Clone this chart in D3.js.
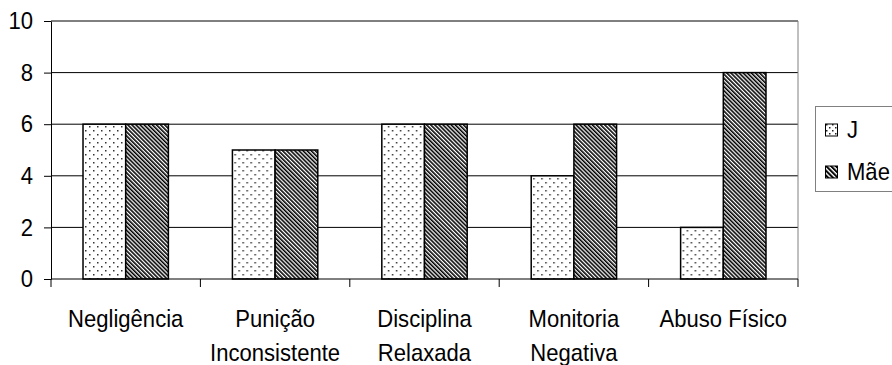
<!DOCTYPE html>
<html>
<head>
<meta charset="utf-8">
<script src="https://cdn.jsdelivr.net/npm/d3@7"></script>
<style>
  body { margin: 0; background: #fff; }
  text { font-family: "Liberation Sans", Arial, sans-serif; }
</style>
</head>
<body>
<div id="chart"></div>
<script>
// data
var categories = ["Negligência", "Punição Inconsistente", "Disciplina Relaxada", "Monitoria Negativa", "Abuso Físico"];
var labelLines = [["Negligência"], ["Punição", "Inconsistente"], ["Disciplina", "Relaxada"], ["Monitoria", "Negativa"], ["Abuso Físico"]];
var series = ["J", "Mãe"];
var valuesJ = [6, 5, 6, 4, 2];
var valuesMae = [6, 5, 6, 6, 8];
var yTicks = [0, 2, 4, 6, 8, 10];

var W = 892, H = 365;
var plot = { left: 51, right: 798, top: 21, bottom: 279 };
var FS = "24px", SX = 0.92; // text is a bit narrow in the original

var svg = d3.select("#chart")
  .append("svg")
  .attr("width", W)
  .attr("height", H);

// fill patterns
var defs = svg.append("defs");

var dots = defs.append("pattern")
  .attr("id", "dots")
  .attr("patternUnits", "userSpaceOnUse")
  .attr("width", 8)
  .attr("height", 8);
dots.append("rect").attr("width", 8).attr("height", 8).attr("fill", "#fff");
dots.append("rect").attr("x", 2).attr("y", 2).attr("width", 1.5).attr("height", 1.5).attr("fill", "#333");
dots.append("rect").attr("x", 6).attr("y", 6).attr("width", 1.5).attr("height", 1.5).attr("fill", "#333");

var stripes = defs.append("pattern")
  .attr("id", "stripes")
  .attr("patternUnits", "userSpaceOnUse")
  .attr("width", 2.9)
  .attr("height", 10)
  .attr("patternTransform", "rotate(-45)");
stripes.append("rect").attr("width", 2.9).attr("height", 10).attr("fill", "#fff");
stripes.append("rect").attr("width", 1.6).attr("height", 10).attr("fill", "#000");

var legDots = defs.append("pattern")
  .attr("id", "legDots")
  .attr("patternUnits", "userSpaceOnUse")
  .attr("width", 6)
  .attr("height", 6);
legDots.append("rect").attr("width", 6).attr("height", 6).attr("fill", "#fff");
legDots.append("rect").attr("x", 1).attr("y", 1).attr("width", 1.5).attr("height", 1.5).attr("fill", "#222");
legDots.append("rect").attr("x", 4).attr("y", 4).attr("width", 1.5).attr("height", 1.5).attr("fill", "#222");

var legStripes = defs.append("pattern")
  .attr("id", "legStripes")
  .attr("patternUnits", "userSpaceOnUse")
  .attr("width", 3.4)
  .attr("height", 10)
  .attr("patternTransform", "rotate(-45)");
legStripes.append("rect").attr("width", 3.4).attr("height", 10).attr("fill", "#fff");
legStripes.append("rect").attr("width", 2).attr("height", 10).attr("fill", "#000");

var fills = { "J": "url(#dots)", "Mãe": "url(#stripes)" };
var legFills = { "J": "url(#legDots)", "Mãe": "url(#legStripes)" };

// scales
var x0 = d3.scaleBand()
  .domain(categories)
  .range([plot.left, plot.right]);

var x1 = d3.scaleBand()
  .domain(series)
  .range([0, x0.bandwidth()])
  .paddingOuter(0.75);

var y = d3.scaleLinear()
  .domain([0, 10])
  .range([plot.bottom, plot.top]);

// gridlines
svg.append("g")
  .selectAll("line")
  .data(yTicks.filter(function (d) { return d > 0; }))
  .enter()
  .append("line")
  .attr("x1", plot.left)
  .attr("x2", plot.right)
  .attr("y1", function (d) { return y(d); })
  .attr("y2", function (d) { return y(d); })
  .attr("stroke", "#000")
  .attr("stroke-width", 1);

svg.append("line")
  .attr("x1", plot.right).attr("x2", plot.right)
  .attr("y1", plot.top).attr("y2", plot.bottom)
  .attr("stroke", "#808080");

// bars
var rows = categories.map(function (c, i) {
  return { cat: c, vals: [{ s: "J", v: valuesJ[i] }, { s: "Mãe", v: valuesMae[i] }] };
});

svg.append("g")
  .selectAll("g")
  .data(rows)
  .enter()
  .append("g")
  .attr("transform", function (d) { return "translate(" + x0(d.cat) + ",0)"; })
  .selectAll("rect")
  .data(function (d) { return d.vals; })
  .enter()
  .append("rect")
  .attr("x", function (d) { return x1(d.s); })
  .attr("y", function (d) { return y(d.v); })
  .attr("width", x1.bandwidth())
  .attr("height", function (d) { return y(0) - y(d.v); })
  .attr("fill", function (d) { return fills[d.s]; })
  .attr("stroke", "#000")
  .attr("stroke-width", 1.5);

// y axis
var yAxis = svg.append("g")
  .attr("transform", "translate(" + plot.left + ",0)")
  .call(d3.axisLeft(y).tickValues(yTicks).tickSize(7).tickSizeOuter(0).tickPadding(11));
yAxis.selectAll("text")
  .attr("x", -18 / SX)
  .attr("transform", "scale(" + SX + ",1)")
  .style("font-size", FS)
  .style("font-family", "'Liberation Sans', Arial, sans-serif")
  .attr("fill", "#000");
yAxis.selectAll("line").attr("stroke", "#000");
yAxis.select(".domain").attr("stroke", "#000");

// x axis
svg.append("line")
  .attr("x1", plot.left).attr("x2", plot.right)
  .attr("y1", y(0)).attr("y2", y(0))
  .attr("stroke", "#000");

var bounds = categories.map(function (c) { return x0(c); }).concat([plot.right]);
svg.append("g")
  .selectAll("line")
  .data(bounds)
  .enter()
  .append("line")
  .attr("x1", function (d) { return d; })
  .attr("x2", function (d) { return d; })
  .attr("y1", y(0))
  .attr("y2", y(0) + 8)
  .attr("stroke", "#000");

svg.append("g")
  .selectAll("text")
  .data(categories)
  .enter()
  .append("text")
  .attr("transform", "scale(" + SX + ",1)")
  .attr("y", 327)
  .attr("text-anchor", "middle")
  .style("font-size", FS)
  .each(function (d, i) {
    var t = d3.select(this);
    labelLines[i].forEach(function (line, k) {
      t.append("tspan")
        .attr("x", (x0(d) + x0.bandwidth() / 2) / SX)
        .attr("dy", k === 0 ? 0 : 34)
        .text(line);
    });
  });

// legend
var legend = svg.append("g");
legend.append("rect")
  .attr("x", 815.5)
  .attr("y", 106.5)
  .attr("width", 100)
  .attr("height", 85)
  .attr("fill", "#fff")
  .attr("stroke", "#808080");

var legY = d3.scalePoint()
  .domain(series)
  .range([130, 172]);

legend.selectAll("rect.key")
  .data(series)
  .enter()
  .append("rect")
  .attr("class", "key")
  .attr("x", 825.5)
  .attr("y", function (d) { return legY(d) - 6; })
  .attr("width", 12)
  .attr("height", 12)
  .attr("fill", function (d) { return legFills[d]; })
  .attr("stroke", "#000");

legend.selectAll("text")
  .data(series)
  .enter()
  .append("text")
  .attr("transform", "scale(" + SX + ",1)")
  .attr("x", 847 / SX)
  .attr("y", function (d) { return legY(d) + 8; })
  .style("font-size", FS)
  .text(function (d) { return d; });
</script>
</body>
</html>
